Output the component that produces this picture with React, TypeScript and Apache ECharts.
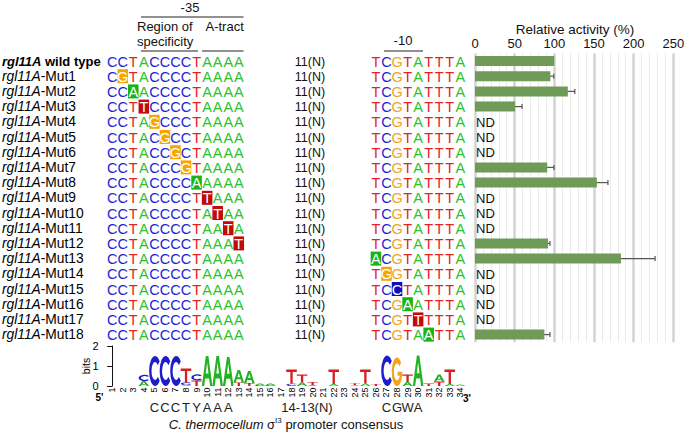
import React, { useEffect, useRef } from 'react';
import * as echarts from 'echarts';

const FONT = "'Liberation Sans', Arial, Helvetica, sans-serif";

// ---------------- data ----------------
const rowNames = ['wild type', 'Mut1', 'Mut2', 'Mut3', 'Mut4', 'Mut5', 'Mut6', 'Mut7', 'Mut8', 'Mut9',
  'Mut10', 'Mut11', 'Mut12', 'Mut13', 'Mut14', 'Mut15', 'Mut16', 'Mut17', 'Mut18'];

const seq35 = ['CCTACCCCTAAAA', 'CGTACCCCTAAAA', 'CCAACCCCTAAAA', 'CCTTCCCCTAAAA', 'CCTAGCCCTAAAA',
  'CCTACGCCTAAAA', 'CCTACCGCTAAAA', 'CCTACCCGTAAAA', 'CCTACCCCAAAAA', 'CCTACCCCTTAAA',
  'CCTACCCCTATAA', 'CCTACCCCTAATA', 'CCTACCCCTAAAT', 'CCTACCCCTAAAA', 'CCTACCCCTAAAA',
  'CCTACCCCTAAAA', 'CCTACCCCTAAAA', 'CCTACCCCTAAAA', 'CCTACCCCTAAAA'];

const seq10 = ['TCGTATTTA', 'TCGTATTTA', 'TCGTATTTA', 'TCGTATTTA', 'TCGTATTTA', 'TCGTATTTA',
  'TCGTATTTA', 'TCGTATTTA', 'TCGTATTTA', 'TCGTATTTA', 'TCGTATTTA', 'TCGTATTTA', 'TCGTATTTA',
  'ACGTATTTA', 'TGGTATTTA', 'TCCTATTTA', 'TCGAATTTA', 'TCGTTTTTA', 'TCGTAATTA'];

// column (in the shared position scale, 0-based) of the mutated base, -1 = none
const mutatedColumn = [-1, 1, 2, 3, 4, 5, 6, 7, 8, 9, 10, 11, 12, 25, 26, 27, 28, 29, 30];
const block35Start = 0;
const block10Start = 25;
const spacerColumn = 18.75;
const spacerLabel = '11(N)';

const activity: (number | null)[] = [100, 95, 117, 50.5, null, null, null, 91, 153.6, null, null, null,
  92, 184, null, null, null, null, 87.5];
const activityError: (number | null)[] = [null, 4.3, 8.8, 8.8, null, null, null, 8.6, 14, null, null, null,
  2.5, 43, null, null, null, null, 7];

const logoPositions = ['1', '2', '3', '4', '5', '6', '7', '8', '9', '10', '11', '12', '13', '14', '15', '16',
  '17', '18', '19', '20', '21', '22', '23', '24', '25', '26', '27', '28', '29', '30', '31', '32', '33', '34'];

// letters bottom -> top, height in bits
const logoStacks: [string, number][][] = [
  [], [], [],
  [['A', 0.25], ['C', 0.3]],
  [['C', 1.5]],
  [['C', 1.5]],
  [['C', 1.5]],
  [['A', 0.04], ['C', 0.14], ['T', 0.7]],
  [['T', 0.28], ['C', 0.3]],
  [['A', 1.5]],
  [['A', 1.5]],
  [['A', 1.45]],
  [['T', 0.18], ['A', 0.62]],
  [['T', 0.15], ['A', 0.6]],
  [['C', 0.04], ['A', 0.08]],
  [['C', 0.04], ['A', 0.08]],
  [],
  [['C', 0.12], ['T', 0.7]],
  [['A', 0.18], ['T', 0.4]],
  [['A', 0.05], ['T', 0.15]],
  [],
  [['A', 0.1], ['T', 0.73]],
  [],
  [['A', 0.04], ['T', 0.1]],
  [['A', 0.13], ['T', 0.7]],
  [['T', 0.1]],
  [['C', 1.52]],
  [['G', 1.42]],
  [['A', 0.2], ['T', 0.38]],
  [['A', 1.52]],
  [['T', 0.12]],
  [['T', 0.22], ['A', 0.35]],
  [['A', 0.1], ['T', 0.73]],
  [['A', 0.08]],
];

const consensusLeft = 'CCCTYAAA';
const consensusLeftStart = 4;
const consensusRight = 'CGWA';
const consensusRightStart = 26;
const consensusSpacer = '14-13(N)';

// ---------------- styles ----------------
const letterColor: Record<string, string> = { A: '#2cc22c', C: '#2424d8', G: '#f2a41c', T: '#e3231f' };
const boxColor: Record<string, string> = { A: '#17b317', C: '#0d0db9', G: '#f6a600', T: '#c10a0a' };
const logoColor: Record<string, string> = { A: '#22b322', C: '#1d1dcc', G: '#f4a21c', T: '#d61f1f' };

const LETTER_PATHS: Record<string, string> = {
  A: 'M38 0 L62 0 L100 100 L78 100 L69 75 L31 75 L22 100 L0 100 Z M37 58 L63 58 L50 22 Z',
  C: 'M88.3 17.9 A50 50 0 1 0 88.3 82.1 L73 69.3 A30 30 0 1 1 73 30.7 Z',
  G: 'M88.3 17.9 A50 50 0 1 0 100 50 L55 50 L55 64 L76.5 64 A30 30 0 1 1 73 30.7 Z',
  T: 'M0 0 L100 0 L100 18 L61 18 L61 100 L39 100 L39 18 L0 18 Z',
};

const SEQ_LEFT = 106.9;
const COL_W = 10.55;
const colX = (c: number) => SEQ_LEFT + (c + 0.5) * COL_W;

export default function App() {
  const ref = useRef<HTMLDivElement>(null);

  useEffect(() => {
    if (!ref.current) return;
    const chart = echarts.init(ref.current, undefined, { renderer: 'svg' });

    type SeqItem = { col: number; row: number; text: string; mut: boolean; spacer: boolean };
    const seqItems: SeqItem[] = [];
    rowNames.forEach((_, r) => {
      seq35[r].split('').forEach((ch, i) => {
        const c = block35Start + i;
        seqItems.push({ col: c, row: r, text: ch, mut: mutatedColumn[r] === c, spacer: false });
      });
      seqItems.push({ col: spacerColumn, row: r, text: spacerLabel, mut: false, spacer: true });
      seq10[r].split('').forEach((ch, i) => {
        const c = block10Start + i;
        seqItems.push({ col: c, row: r, text: ch, mut: mutatedColumn[r] === c, spacer: false });
      });
    });

    type LogoItem = { pos: number; y0: number; y1: number; letter: string };
    const logoItems: LogoItem[] = [];
    logoStacks.forEach((stack, p) => {
      let acc = 0;
      stack.forEach(([letter, h]) => {
        logoItems.push({ pos: p, y0: acc, y1: acc + h, letter });
        acc += h;
      });
    });

    const errItems: number[][] = [];
    const ndItems: number[][] = [];
    activity.forEach((v, r) => {
      if (v === null) ndItems.push([0, r]);
      else if (activityError[r] !== null) errItems.push([v, r, activityError[r] as number]);
    });

    const graphic: any[] = [];
    const txt = (x: number, y: number, text: string, align = 'center', fontSize = 13, extra: any = {}) => ({
      type: 'text', x, y,
      style: { text, fill: '#111', fontSize, fontFamily: FONT, align, verticalAlign: 'middle', ...extra },
    });
    const ln = (x1: number, y1: number, x2: number, y2: number) => ({
      type: 'line', shape: { x1, y1, x2, y2 }, style: { stroke: '#222', lineWidth: 1 },
    });
    graphic.push(txt(190, 7, '-35'));
    graphic.push(ln(141, 17, 243.5, 17));
    graphic.push(txt(137, 26, 'Region of', 'left'));
    graphic.push(txt(137, 41, 'specificity', 'left'));
    graphic.push(txt(205.5, 26, 'A-tract', 'left'));
    graphic.push(ln(141, 51, 198, 51));
    graphic.push(ln(202, 51, 243.5, 51));
    graphic.push(txt(403, 40, '-10'));
    graphic.push(ln(384, 51, 423, 51));
    graphic.push(txt(575, 29, 'Relative activity (%)', 'center', 13.5));
    graphic.push(txt(99.5, 397, "5'", 'center', 10, { fontWeight: 'bold', fill: '#000' }));
    graphic.push(txt(467, 398, "3'", 'center', 10, { fontWeight: 'bold', fill: '#000' }));
    consensusLeft.split('').forEach((ch, i) => {
      graphic.push(txt(colX(consensusLeftStart + i), 407, ch, 'center', 13, { fill: '#222' }));
    });
    consensusRight.split('').forEach((ch, i) => {
      graphic.push(txt(colX(consensusRightStart + i), 407, ch, 'center', 13, { fill: '#222' }));
    });
    graphic.push(txt(307, 407, consensusSpacer, 'center', 13, { fill: '#222' }));
    graphic.push({
      type: 'text', x: 286, y: 424,
      style: {
        text: '{i|C. thermocellum} {n|σ}{s|I3}{n| promoter consensus}',
        align: 'center', verticalAlign: 'middle', fill: '#111', fontFamily: FONT, fontSize: 13,
        rich: {
          i: { fontStyle: 'italic', fontSize: 13, fontFamily: FONT, fill: '#111' },
          n: { fontSize: 13, fontFamily: FONT, fill: '#111' },
          s: { fontSize: 8, fontFamily: FONT, fill: '#111', verticalAlign: 'top', padding: [0, 0, 8, 0] },
        },
      },
    });

    const option: any = {
      animation: false,
      backgroundColor: '#fff',
      graphic,
      grid: [
        { left: 475, right: 11.7, top: 53.4, height: 288.8, outerBoundsMode: 'none' },
        { left: SEQ_LEFT, width: 34 * COL_W, top: 53.4, height: 288.8, outerBoundsMode: 'none' },
        { left: 105, width: 34 * COL_W + 1.9, top: 346, height: 40, outerBoundsMode: 'none' },
      ],
      xAxis: [
        {
          gridIndex: 0, type: 'value', position: 'top', min: 0, max: 250, interval: 50,
          axisLine: { show: false }, axisTick: { show: false },
          axisLabel: { fontSize: 13, color: '#111', fontFamily: FONT, margin: 3 },
          splitLine: { show: true, lineStyle: { color: '#d3d3d3', width: 2.5 } },
          minorTick: { show: false, splitNumber: 5 },
          minorSplitLine: { show: true, lineStyle: { color: '#ebebeb', width: 1 } },
        },
        { gridIndex: 1, type: 'value', min: -0.5, max: 33.5, show: false },
        { gridIndex: 2, type: 'value', min: -0.68, max: 33.5, show: false },
      ],
      yAxis: [
        { gridIndex: 0, type: 'category', data: rowNames, inverse: true, show: false },
        {
          gridIndex: 1, type: 'category', data: rowNames, inverse: true,
          axisLine: { show: false }, axisTick: { show: false }, splitLine: { show: false },
          axisLabel: {
            align: 'left', margin: 105, interval: 0,
            formatter: (val: string, idx: number) =>
              idx === 0 ? `{bi|rgl11A}{b| ${val}}` : `{i|rgl11A}{n|-${val}}`,
            rich: {
              bi: { fontWeight: 'bold', fontStyle: 'italic', fontSize: 13, color: '#000', fontFamily: FONT },
              b: { fontWeight: 'bold', fontSize: 13, color: '#000', fontFamily: FONT },
              i: { fontStyle: 'italic', fontSize: 13.8, color: '#000', fontFamily: FONT },
              n: { fontSize: 13.8, color: '#000', fontFamily: FONT },
            },
          },
        },
        {
          gridIndex: 2, type: 'value', min: 0, max: 2, interval: 1,
          name: 'bits', nameLocation: 'middle', nameGap: 13.5, nameRotate: 90, nameMoveOverlap: false,
          nameTextStyle: { fontSize: 10.5, color: '#000', fontFamily: FONT },
          axisLine: { show: true, lineStyle: { color: '#111', width: 1 } },
          axisTick: { show: true, length: 5, lineStyle: { color: '#111' } },
          axisLabel: { fontSize: 11, color: '#000', margin: 6.5, fontFamily: FONT },
          splitLine: { show: false },
        },
      ],
      series: [
        {
          type: 'bar', xAxisIndex: 0, yAxisIndex: 0, data: activity, barWidth: 10,
          itemStyle: { color: '#6f9a58' }, silent: true,
        },
        {
          type: 'custom', xAxisIndex: 0, yAxisIndex: 0, data: errItems, silent: true,
          renderItem: (params: any, api: any) => {
            const v = api.value(0), r = api.value(1), e = api.value(2);
            const lo = api.coord([v - e, r]);
            const hi = api.coord([v + e, r]);
            const cap = 2.5;
            const st = { stroke: '#555', lineWidth: 1.2 };
            return {
              type: 'group', children: [
                { type: 'line', shape: { x1: lo[0], y1: lo[1], x2: hi[0], y2: hi[1] }, style: st },
                { type: 'line', shape: { x1: lo[0], y1: lo[1] - cap, x2: lo[0], y2: lo[1] + cap }, style: st },
                { type: 'line', shape: { x1: hi[0], y1: hi[1] - cap, x2: hi[0], y2: hi[1] + cap }, style: st },
              ],
            };
          },
        },
        {
          type: 'custom', xAxisIndex: 0, yAxisIndex: 0, data: ndItems, silent: true,
          renderItem: (params: any, api: any) => {
            const p = api.coord([api.value(0), api.value(1)]);
            return {
              type: 'text', x: p[0] + 1, y: p[1] + 0.5,
              style: { text: 'ND', fill: '#111', fontSize: 13, fontFamily: FONT, align: 'left', verticalAlign: 'middle' },
            };
          },
        },
        {
          type: 'custom', xAxisIndex: 1, yAxisIndex: 1, silent: true,
          data: seqItems.map((s) => [s.col, s.row]),
          renderItem: (params: any, api: any) => {
            const it = seqItems[params.dataIndex];
            const p = api.coord([it.col, it.row]);
            if (it.spacer) {
              return {
                type: 'text', x: p[0], y: p[1] + 0.5,
                style: { text: it.text, fill: '#111', fontSize: 12.5, fontFamily: FONT, align: 'center', verticalAlign: 'middle' },
              };
            }
            const w = api.size([1, 0])[0];
            if (it.mut) {
              return {
                type: 'group', children: [
                  { type: 'rect', shape: { x: p[0] - w / 2, y: p[1] - 7, width: w, height: 14 }, style: { fill: boxColor[it.text] } },
                  {
                    type: 'text', x: p[0], y: p[1] + 0.5,
                    style: { text: it.text, fill: '#fff', fontSize: 14.5, fontFamily: FONT, align: 'center', verticalAlign: 'middle' },
                  },
                ],
              };
            }
            return {
              type: 'text', x: p[0], y: p[1] + 0.5,
              style: { text: it.text, fill: letterColor[it.text], fontSize: 14.5, fontFamily: FONT, align: 'center', verticalAlign: 'middle' },
            };
          },
        },
        {
          type: 'custom', xAxisIndex: 2, yAxisIndex: 2, silent: true,
          data: logoItems.map((d) => [d.pos, d.y1]),
          renderItem: (params: any, api: any) => {
            const it = logoItems[params.dataIndex];
            const top = api.coord([it.pos, it.y1]);
            const bot = api.coord([it.pos, it.y0]);
            const w = api.size([1, 0])[0];
            const h = bot[1] - top[1];
            return {
              type: 'path',
              shape: { pathData: LETTER_PATHS[it.letter], x: top[0] - w / 2, y: top[1], width: w, height: Math.max(h, 0.5), layout: 'cover' },
              style: { fill: logoColor[it.letter] },
            };
          },
        },
        {
          type: 'custom', xAxisIndex: 2, yAxisIndex: 2, silent: true,
          data: logoPositions.map((_, i) => [i, 0]),
          renderItem: (params: any, api: any) => {
            const p = api.coord([api.value(0), 0]);
            return {
              type: 'text', x: p[0], y: p[1] + 1.5, rotation: Math.PI / 2,
              style: { text: logoPositions[params.dataIndex], fill: '#000', fontSize: 9, fontFamily: FONT, align: 'right', verticalAlign: 'middle' },
            };
          },
        },
      ],
    };
    chart.setOption(option);
    return () => chart.dispose();
  }, []);

  return <div ref={ref} style={{ position: 'fixed', left: 0, top: 0, width: 685, height: 434 }} />;
}
